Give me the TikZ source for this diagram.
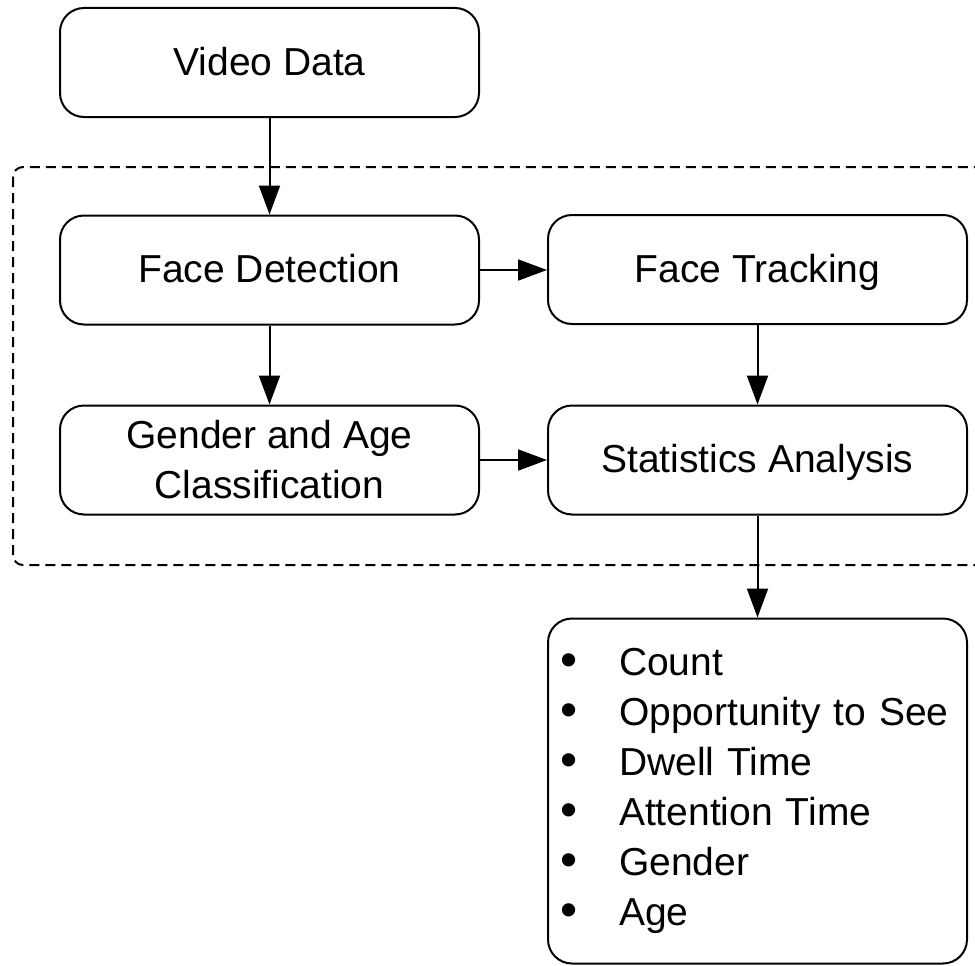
\documentclass[tikz,border=0pt]{standalone}
\usepackage{fontspec}
\setmainfont{Liberation Sans}
\usetikzlibrary{arrows.meta}
\newcommand{\bulitem}[1]{\makebox[59pt][l]{\raisebox{-1pt}{\scalebox{1.25}{•}}}#1}
\begin{document}
\begin{tikzpicture}[x=1pt,y=-1pt,
  box/.style={draw=black, line width=2pt, rounded corners=24pt, minimum width=419pt, minimum height=109pt, inner sep=0pt, align=center, font=\fontsize{39}{50}\selectfont},
  one/.style={text height=28pt, text depth=3pt},
  arr/.style={draw=black, line width=2pt, -{Triangle[length=29pt,width=21pt]}},
  grp/.style={draw=black, line width=2pt, dash pattern=on 10pt off 6pt, rounded corners=10pt}]
\useasboundingbox (0,0) rectangle (975,966);
\clip (0,0) rectangle (975,966);
\node[box, one] (vd) at (269.5,62.5) {Video Data};
\node[box, one] (fd) at (269.5,270) {Face Detection};
\node[box, one] (ft) at (757.5,269.5) {Face Tracking};
\node[box] (ga) at (269.5,460) {Gender and Age\\Classification};
\node[box, one] (sa) at (757.5,460) {Statistics Analysis};
\node[box, minimum height=345pt, align=left, text width=395pt, inner xsep=12pt] (out) at (757.5,791)
  {\bulitem{Count}\\
   \bulitem{Opportunity to See}\\
   \bulitem{Dwell Time}\\
   \bulitem{Attention Time}\\
   \bulitem{Gender}\\
   \bulitem{Age}};
\coordinate (gtl) at (13,167);
\coordinate (gbr) at (1000,565);
\draw[grp] (gtl) rectangle (gbr);
\draw[arr] (vd) -- (fd);
\draw[arr] (fd) -- (ga);
\draw[arr] (ft) -- (sa);
\draw[arr] (fd.east) -- (ft.west |- fd.east);
\draw[arr] (ga) -- (sa);
\draw[arr] (sa) -- (out);
\end{tikzpicture}
\end{document}
